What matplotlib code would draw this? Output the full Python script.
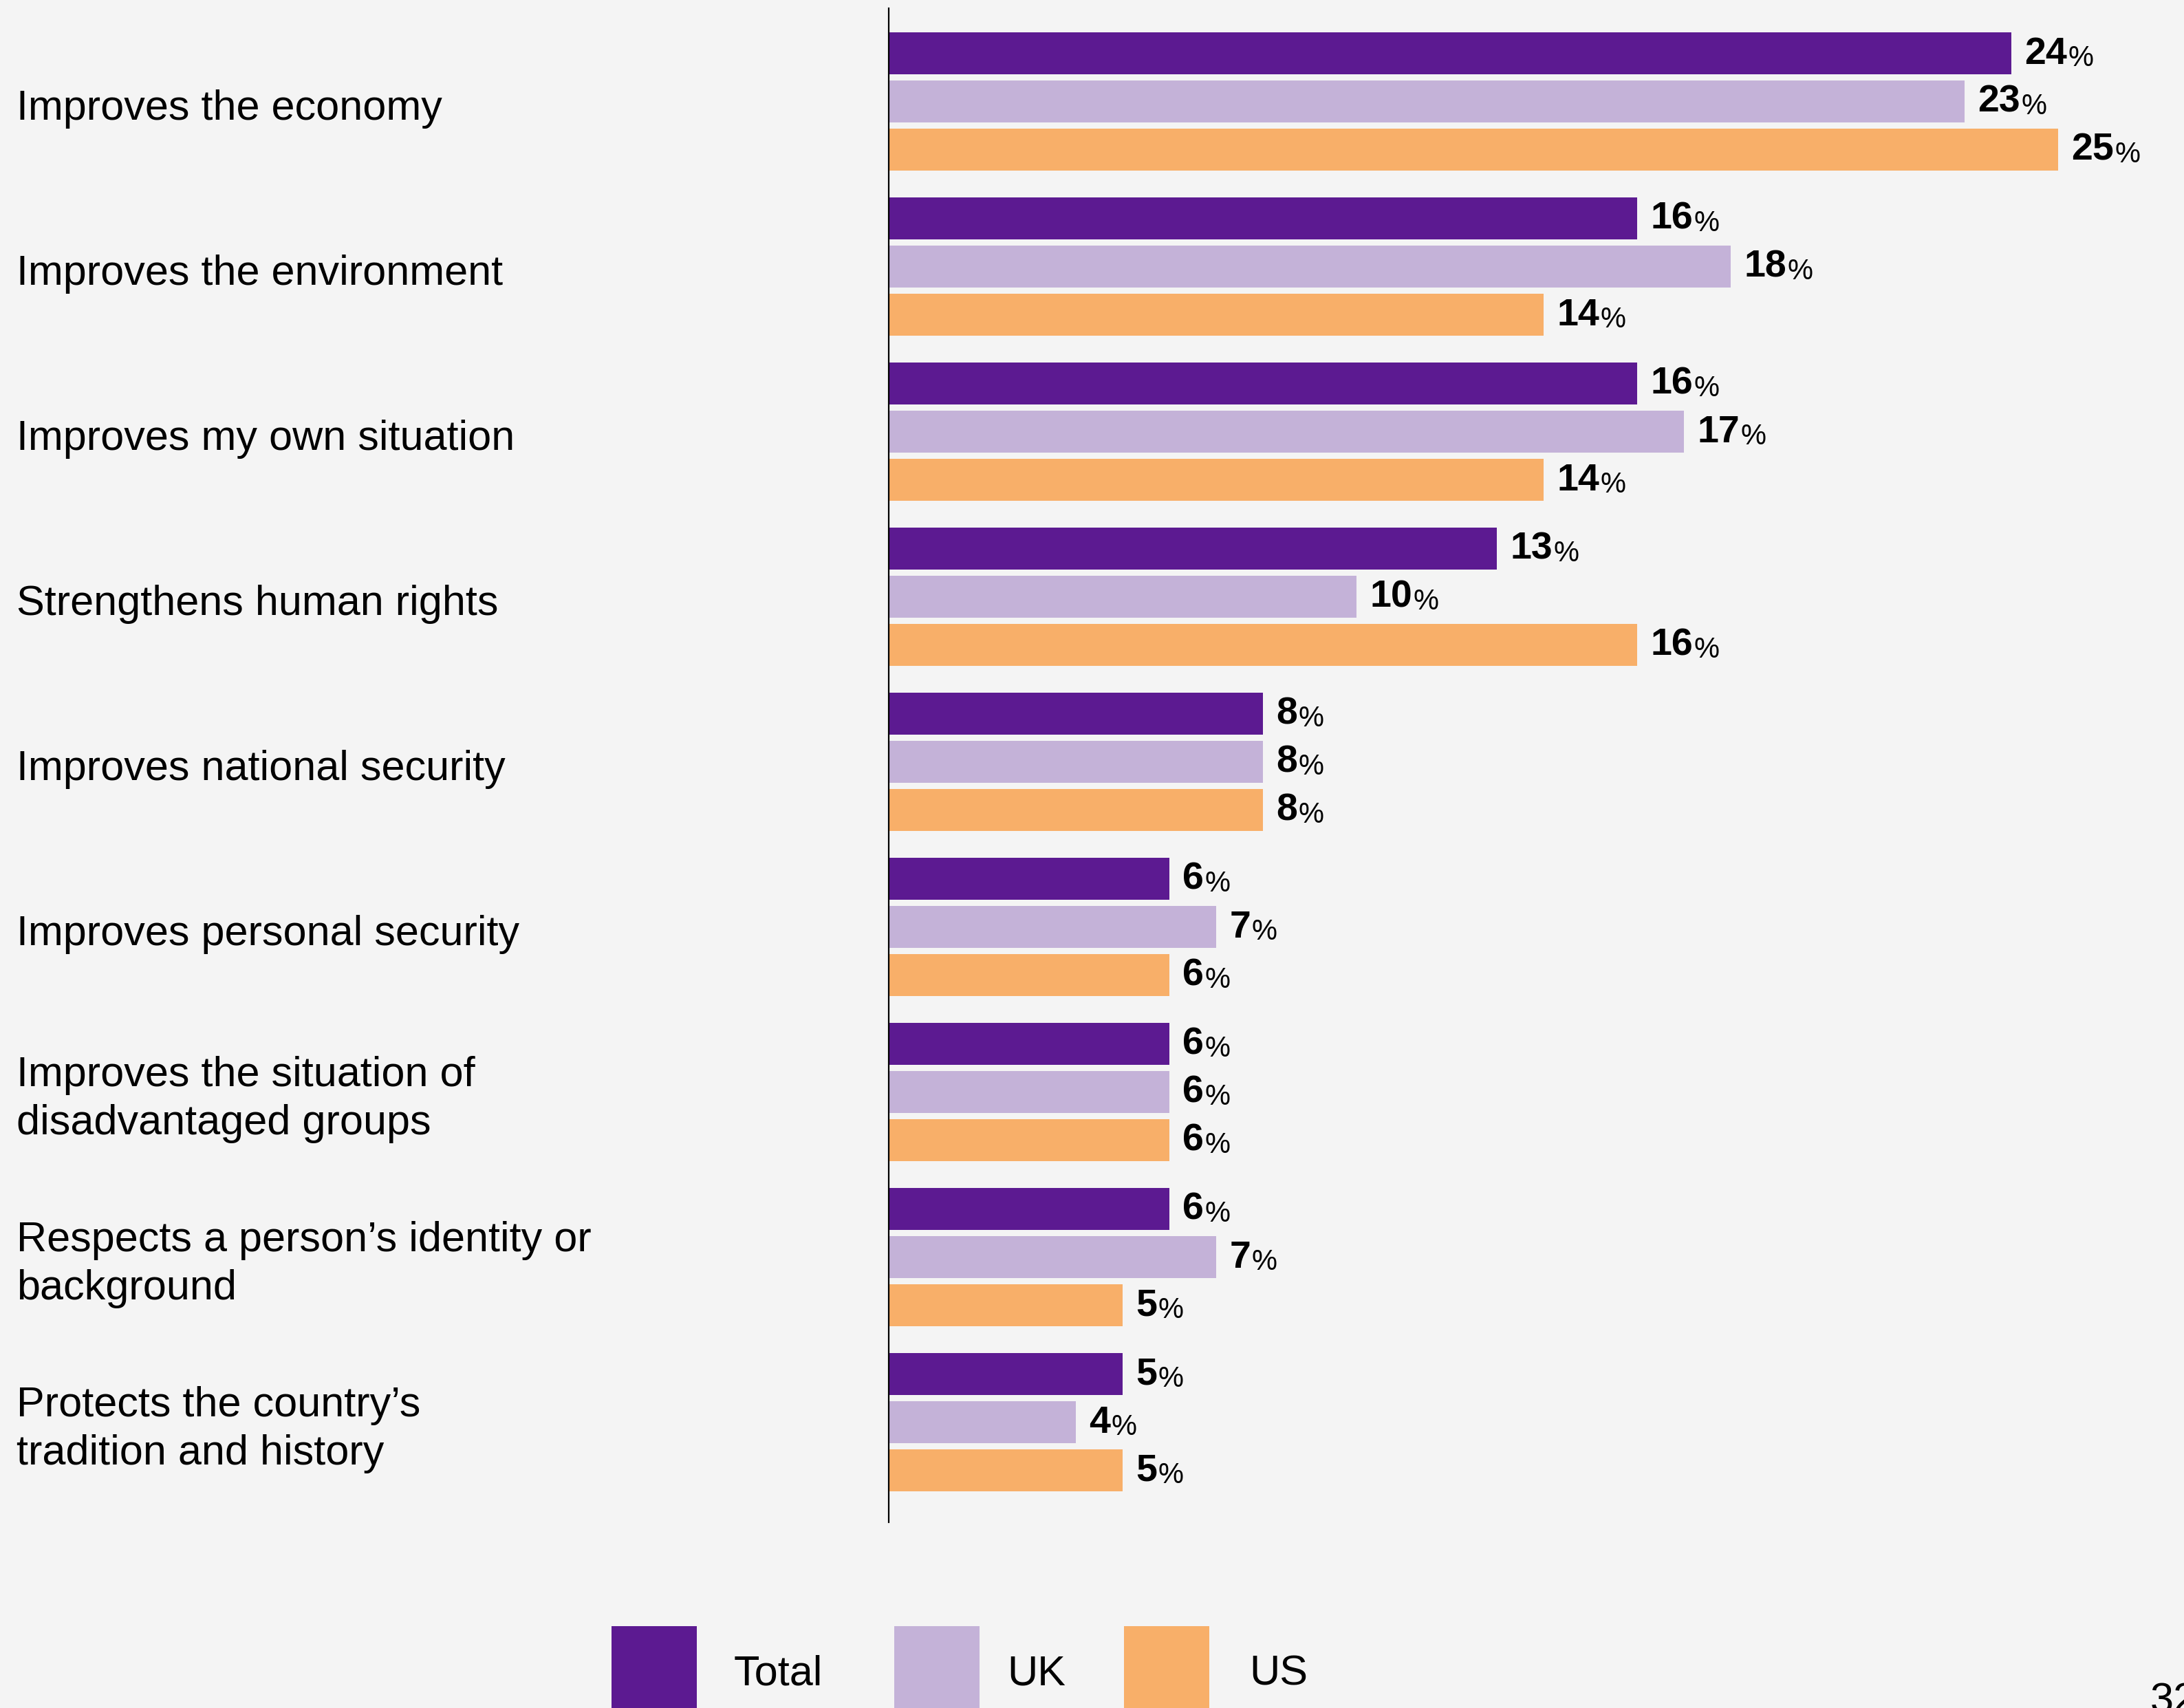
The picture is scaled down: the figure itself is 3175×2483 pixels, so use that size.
import numpy as np
import matplotlib.pyplot as plt
from matplotlib.patches import Rectangle
from matplotlib.transforms import blended_transform_factory

# Reasons given, one group of three bars each
categories = [
    "Improves the economy",
    "Improves the environment",
    "Improves my own situation",
    "Strengthens human rights",
    "Improves national security",
    "Improves personal security",
    "Improves the situation of\ndisadvantaged groups",
    "Respects a person\u2019s identity or\nbackground",
    "Protects the country\u2019s\ntradition and history",
]
total = [24, 16, 16, 13, 8, 6, 6, 6, 5]
uk = [23, 18, 17, 10, 8, 7, 6, 7, 4]
us = [25, 14, 14, 16, 8, 6, 6, 5, 5]
series_names = ["Total", "UK", "US"]
series_colors = ["#5C1A91", "#C4B2D8", "#F8AF69"]
page_number = "32"

W, H = 3175, 2483
BG = "#F4F4F4"


def fx(px):
    return px / W


def fy(py):
    return 1 - py / H


def main():
    plt.rcParams['font.family'] = ['Liberation Sans', 'DejaVu Sans']
    fig = plt.figure(figsize=(W / 100, H / 100), dpi=100, facecolor=BG)

    # plot area: the vertical baseline sits at the left edge
    ax = fig.add_axes([fx(1292), fy(2213), 1 - fx(1292), (2213 - 12) / H])
    ax.set_facecolor('none')

    n = len(categories)
    ypos = np.arange(n)
    offsets = [-0.292, 0.0, 0.292]
    bar_h = 0.255

    for vals, off, col in zip([total, uk, us], offsets, series_colors):
        bars = ax.barh(ypos + off, vals, height=bar_h, color=col, linewidth=0)
        for b, v in zip(bars, vals):
            num = ax.annotate(str(v), xy=(b.get_width(), b.get_y() + b.get_height() / 2),
                              xytext=(14, -1), textcoords='offset points',
                              ha='left', va='center', fontsize=40, fontweight='bold',
                              color='black')
            ax.annotate('%', xy=(1, 0), xycoords=num, xytext=(1, 0),
                        textcoords='offset points', ha='left', va='bottom',
                        fontsize=30, color='black')

    ax.set_xlim(0, (W - 1292) / 68)
    ax.set_ylim((2213 - 147.5) / 240, (12 - 147.5) / 240)

    for side in ['top', 'right', 'bottom']:
        ax.spines[side].set_visible(False)
    ax.spines['left'].set_color('black')
    ax.spines['left'].set_linewidth(1.6)
    ax.set_xticks([])
    ax.set_yticks([])

    # category names on the left of the figure
    trans = blended_transform_factory(fig.transFigure, ax.transData)
    for y, name in zip(ypos, categories):
        ax.text(fx(24), y + 0.045, name, transform=trans, ha='left', va='center',
                fontsize=44, color='black', linespacing=1.3)

    # legend along the bottom edge
    swatch_x = [889, 1300, 1634]
    label_x = [1067, 1464, 1816]
    for sx, lx, name, col in zip(swatch_x, label_x, series_names, series_colors):
        fig.add_artist(Rectangle((fx(sx), fy(2490)), 124 / W, 126 / H,
                                 transform=fig.transFigure, color=col, linewidth=0))
        fig.text(fx(lx), fy(2434), name, ha='left', va='center', fontsize=44, color='black')

    fig.text(fx(3126), fy(2446), page_number, ha='left', va='top', fontsize=44, color='black')

    plt.savefig('out.png', dpi=100, facecolor=BG)


if __name__ == '__main__':
    main()
